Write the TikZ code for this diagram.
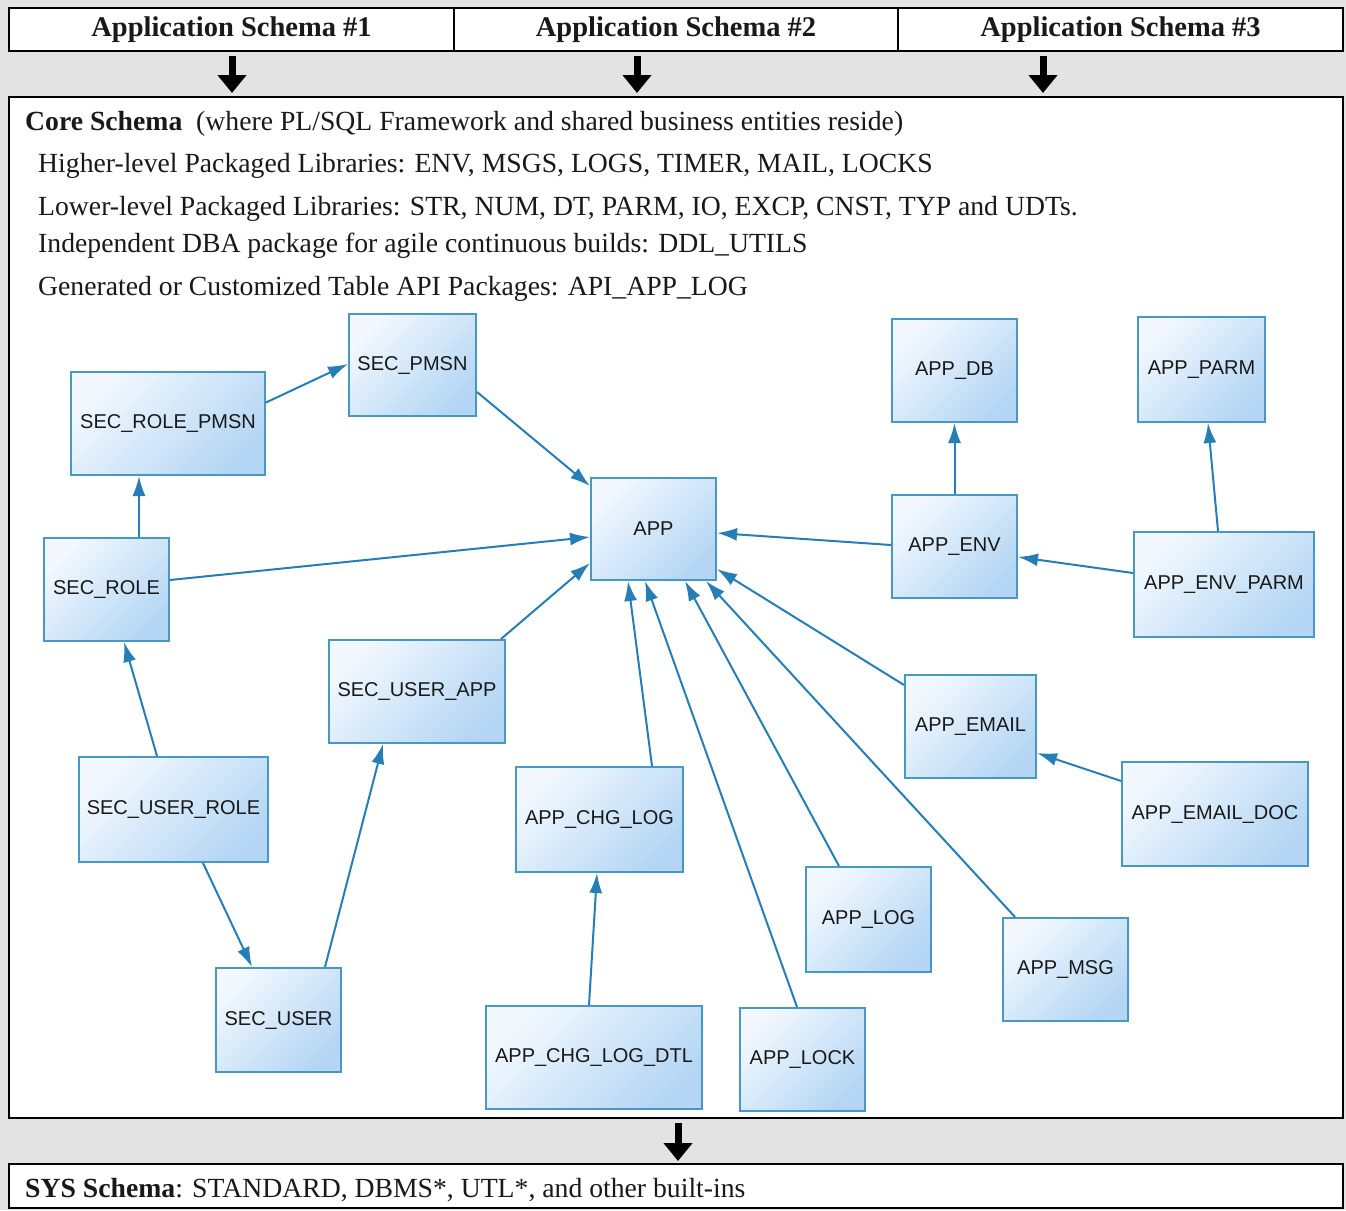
\documentclass[tikz,border=0pt]{standalone}
\usepackage{fontspec}
\setmainfont{Liberation Serif}
\setsansfont{Liberation Sans}
\usetikzlibrary{arrows.meta}
\definecolor{bg}{RGB}{227,227,227}
\definecolor{boxedge}{RGB}{72,152,196}
\definecolor{boxtl}{RGB}{242,248,254}
\definecolor{boxbr}{RGB}{180,214,244}
\definecolor{conn}{RGB}{38,126,182}
\definecolor{ink}{RGB}{25,25,25}
\begin{document}
\begin{tikzpicture}[x=1pt,y=-1pt,
  tbl/.style={draw=boxedge, line width=2pt, top color=boxtl, bottom color=boxbr, shading angle=45,
     font=\sffamily\fontsize{20}{23}\selectfont, text=ink, inner sep=0pt},
  fk/.style={draw=conn, line width=2pt, -{Latex[length=20pt,width=13pt]}},
  hdr/.style={draw=black, line width=1.6pt, fill=white, minimum height=43pt, inner sep=0pt,
     font=\bfseries\fontsize{28.5}{31}\selectfont, text=ink},
  frame/.style={draw=black, line width=1.6pt, fill=white},
  txt/.style={anchor=base west, inner sep=0pt, font=\fontsize{27.7}{31}\selectfont, text=ink},
  bigarrow/.style={draw=black, line width=7pt, -{Triangle[length=18pt,width=28pt]}}
]
\fill[bg] (0,0) rectangle (1346,1210);
\useasboundingbox (0,0) rectangle (1346,1210);
% header cells
\node[hdr, minimum width=445pt] (h1) at (231.5,29.5) {Application Schema \#1};
\node[hdr, minimum width=444pt] (h2) at (676,29.5) {Application Schema \#2};
\node[hdr, minimum width=445pt] (h3) at (1120.5,29.5) {Application Schema \#3};
% core frame
\node[frame, minimum width=1334pt, minimum height=1021pt, inner sep=0pt] (core) at (676,607.5) {};
% sys frame
\node[frame, minimum width=1334pt, minimum height=44pt, inner sep=0pt] (sys) at (676,1186) {};
% big arrows
\coordinate (a1s) at (232,56); \coordinate (a1e) at (232,93);
\coordinate (a2s) at (637,56); \coordinate (a2e) at (637,93);
\coordinate (a3s) at (1043,56); \coordinate (a3e) at (1043,93);
\coordinate (a4s) at (678,1123); \coordinate (a4e) at (678,1161);
\draw[bigarrow] (a1s) -- (a1e);
\draw[bigarrow] (a2s) -- (a2e);
\draw[bigarrow] (a3s) -- (a3e);
\draw[bigarrow] (a4s) -- (a4e);
% texts
\node[txt] (t1) at (25,130) {\textbf{Core Schema}\ \ (where PL/SQL Framework and shared business entities reside)};
\node[txt] (t2) at (38,172) {Higher-level Packaged Libraries: ENV, MSGS, LOGS, TIMER, MAIL, LOCKS};
\node[txt] (t3) at (38,215) {Lower-level Packaged Libraries: STR, NUM, DT, PARM, IO, EXCP, CNST, TYP and UDTs.};
\node[txt] (t4) at (38,252) {Independent DBA package for agile continuous builds: DDL\_UTILS};
\node[txt] (t5) at (38,295) {Generated or Customized Table API Packages: API\_APP\_LOG};
\node[txt] (t6) at (25,1197) {\textbf{SYS Schema}: STANDARD, DBMS*, UTL*, and other built-ins};
% tables
\node[tbl, minimum width=127pt, minimum height=102pt] (SEC_PMSN) at (412.5,365) {SEC\_PMSN};
\node[tbl, minimum width=194pt, minimum height=103pt] (SEC_ROLE_PMSN) at (168,423.5) {SEC\_ROLE\_PMSN};
\node[tbl, minimum width=125pt, minimum height=103pt] (SEC_ROLE) at (106.5,589.5) {SEC\_ROLE};
\node[tbl, minimum width=125pt, minimum height=102pt] (APP) at (653.5,529) {APP};
\node[tbl, minimum width=125pt, minimum height=103pt] (APP_DB) at (954.5,370.5) {APP\_DB};
\node[tbl, minimum width=127pt, minimum height=105pt] (APP_PARM) at (1201.5,369.5) {APP\_PARM};
\node[tbl, minimum width=125pt, minimum height=103pt] (APP_ENV) at (954.5,546.5) {APP\_ENV};
\node[tbl, minimum width=180pt, minimum height=105pt] (APP_ENV_PARM) at (1224,584.5) {APP\_ENV\_PARM};
\node[tbl, minimum width=176pt, minimum height=103pt] (SEC_USER_APP) at (417,691.5) {SEC\_USER\_APP};
\node[tbl, minimum width=131pt, minimum height=103pt] (APP_EMAIL) at (970.5,726.5) {APP\_EMAIL};
\node[tbl, minimum width=189pt, minimum height=105pt] (SEC_USER_ROLE) at (173.5,809.5) {SEC\_USER\_ROLE};
\node[tbl, minimum width=167pt, minimum height=105pt] (APP_CHG_LOG) at (599.5,819.5) {APP\_CHG\_LOG};
\node[tbl, minimum width=186pt, minimum height=104pt] (APP_EMAIL_DOC) at (1215,814) {APP\_EMAIL\_DOC};
\node[tbl, minimum width=125pt, minimum height=105pt] (APP_LOG) at (868.5,919.5) {APP\_LOG};
\node[tbl, minimum width=125pt, minimum height=103pt] (APP_MSG) at (1065.5,969.5) {APP\_MSG};
\node[tbl, minimum width=125pt, minimum height=104pt] (SEC_USER) at (278.5,1020) {SEC\_USER};
\node[tbl, minimum width=216pt, minimum height=103pt] (APP_CHG_LOG_DTL) at (594,1057.5) {APP\_CHG\_LOG\_DTL};
\node[tbl, minimum width=125pt, minimum height=103pt] (APP_LOCK) at (802.5,1059.5) {APP\_LOCK};
% connectors
\draw[fk] ([yshift=21pt]SEC_ROLE_PMSN.east) -- ([yshift=1pt]SEC_PMSN.west);
\draw[fk] ([yshift=-27pt]SEC_PMSN.east) -- ([yshift=-9pt]APP.north west);
\draw[fk] ([xshift=32.5pt]SEC_ROLE.north) -- ([xshift=-29pt]SEC_ROLE_PMSN.south);
\draw[fk] ([yshift=9.5pt]SEC_ROLE.east) -- ([yshift=-8pt]APP.west);
\draw[fk] ([xshift=-5pt]SEC_USER_APP.north east) -- ([yshift=18pt]APP.south west);
\draw[fk] ([xshift=-16.5pt]SEC_USER_ROLE.north) -- ([xshift=17.5pt]SEC_ROLE.south);
\draw[fk] ([xshift=29.5pt]SEC_USER_ROLE.south) -- ([xshift=-26.5pt]SEC_USER.north);
\draw[fk] ([xshift=46.5pt]SEC_USER.north) -- ([xshift=-34pt]SEC_USER_APP.south);
\draw[fk] ([xshift=52.5pt]APP_CHG_LOG.north) -- ([xshift=-25.5pt]APP.south);
\draw[fk] ([xshift=-5pt]APP_CHG_LOG_DTL.north) -- ([xshift=-2.5pt]APP_CHG_LOG.south);
\draw[fk] ([xshift=-5.5pt]APP_LOCK.north) -- ([xshift=-8.5pt]APP.south);
\draw[fk] ([xshift=-29.5pt]APP_LOG.north) -- ([xshift=31.5pt]APP.south);
\draw[fk] ([xshift=-50.5pt]APP_MSG.north) -- ([xshift=-11pt]APP.south east);
\draw[fk] ([yshift=-11pt]APP_EMAIL.north west) -- ([yshift=12pt]APP.south east);
\draw[fk] ([yshift=1.5pt]APP_ENV.west) -- ([yshift=-4pt]APP.east);
\draw[fk] (APP_ENV.north) -- (APP_DB.south);
\draw[fk] ([yshift=11.5pt]APP_ENV_PARM.west) -- ([yshift=-10.5pt]APP_ENV.east);
\draw[fk] ([xshift=-6pt]APP_ENV_PARM.north) -- ([xshift=6.5pt]APP_PARM.south);
\draw[fk] ([yshift=33pt]APP_EMAIL_DOC.west) -- ([yshift=-26.5pt]APP_EMAIL.east);
\end{tikzpicture}
\end{document}
